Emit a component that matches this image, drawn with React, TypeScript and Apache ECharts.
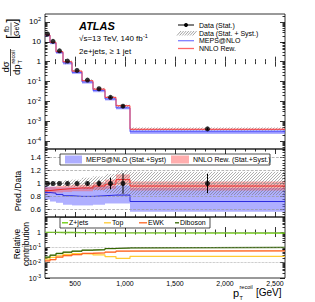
import React, { useEffect, useRef } from 'react';
import * as echarts from 'echarts';

// ---------- data ----------
const binEdges = [200, 250, 310, 380, 470, 570, 680, 800, 910, 1050, 2600];
const dataXsec = [24.6, 10.5, 3.5, 1.07, 0.36, 0.118, 0.043, 0.016, 0.0057, 0.00041];
const dataStatRel = [0.005, 0.006, 0.008, 0.01, 0.014, 0.025, 0.05, 0.09, 0.16, 0.15];
const dataTotRel = [0.03, 0.035, 0.04, 0.05, 0.06, 0.09, 0.11, 0.15, 0.19, 0.18];
const mepsRatio = [0.86, 0.85, 0.83, 0.81, 0.8, 0.8, 0.81, 0.82, 0.82, 0.72];
const mepsLow = [0.75, 0.72, 0.7, 0.67, 0.66, 0.66, 0.67, 0.69, 0.69, 0.56];
const mepsHigh = [0.95, 0.95, 0.94, 0.94, 0.94, 0.94, 0.95, 0.96, 0.97, 0.93];
const nnloRatio = [0.89, 0.9, 0.91, 0.92, 0.93, 0.93, 0.96, 0.99, 1.06, 0.96];
const nnloErr = [0.05, 0.05, 0.05, 0.05, 0.05, 0.05, 0.06, 0.07, 0.08, 0.07];
const fracZjets = [0.95, 0.95, 0.94, 0.93, 0.92, 0.91, 0.9, 0.89, 0.88, 0.87];
const fracTop = [0.017, 0.022, 0.028, 0.035, 0.039, 0.037, 0.032, 0.025, 0.019, 0.026];
const fracEWK = [0.013, 0.016, 0.023, 0.029, 0.034, 0.04, 0.044, 0.049, 0.057, 0.059];
const fracDiboson = [0.023, 0.031, 0.04, 0.049, 0.057, 0.066, 0.072, 0.084, 0.092, 0.1];
const xTickValues = [500, 1000, 1500, 2000, 2500];
const topExpTicks = [-4, -3, -2, -1, 0, 1, 2];
const ratioTicks = [0.6, 0.8, 1.0, 1.2, 1.4];
const fracExpTicks = [-3, -2, -1, 0];

// ---------- helpers ----------
const FONT = 'Liberation Sans, Arial, Helvetica, sans-serif';
const L = (v: number) => Math.log10(v);
const centers = dataXsec.map((_, i) => (binEdges[i] + binEdges[i + 1]) / 2);

function stepPts(vals: number[]) {
  const pts: number[][] = [];
  vals.forEach((v, i) => {
    pts.push([binEdges[i], v]);
    pts.push([binEdges[i + 1], v]);
  });
  return pts;
}

function logMinor(min: number, max: number) {
  const out: number[] = [];
  for (let n = -6; n <= 3; n++) {
    for (let k = 2; k <= 9; k++) {
      const v = n + Math.log10(k);
      if (v > min && v < max) out.push(v);
    }
  }
  return out;
}

const TOP = { min: -4.4, max: 2.4 };
const RAT = { min: 0.48, max: 1.535 };
const FRA = { min: -3, max: 0.98 };

const xMinor: number[] = [];
for (let v = 300; v <= 2500; v += 100) if (v % 500 !== 0) xMinor.push(v);
const ratMinor: number[] = [];
for (let v = 0.52; v < 1.53; v += 0.04) {
  const r = Math.round(v * 100) / 100;
  if (!ratioTicks.some((t) => Math.abs(t - r) < 1e-6)) ratMinor.push(r);
}

const tickStyle = { color: '#000', width: 0.8 };

function xAxesFor(g: number) {
  const base: any = {
    type: 'value', gridIndex: g, min: 200, max: 2600,
    axisLine: { show: false }, splitLine: { show: false }, axisLabel: { show: false },
  };
  return [
    {
      ...base, position: 'bottom',
      axisTick: { show: true, inside: true, length: 5, customValues: xTickValues, lineStyle: tickStyle },
      axisLabel: g === 2
        ? { show: true, customValues: xTickValues, fontSize: 7, margin: 1.5, color: '#000', fontFamily: FONT }
        : { show: false },
    },
    { ...base, position: 'bottom', axisTick: { show: true, inside: true, length: 2.5, customValues: xMinor, lineStyle: tickStyle } },
    { ...base, position: 'top', axisTick: { show: true, inside: true, length: 5, customValues: xTickValues, lineStyle: tickStyle } },
    { ...base, position: 'top', axisTick: { show: true, inside: true, length: 2.5, customValues: xMinor, lineStyle: tickStyle } },
  ];
}

function yAxesFor(g: number, rng: { min: number; max: number }, major: number[], minor: number[], label: any) {
  const base: any = {
    type: 'value', gridIndex: g, min: rng.min, max: rng.max,
    axisLine: { show: false }, splitLine: { show: false }, axisLabel: { show: false },
  };
  return [
    {
      ...base, position: 'left',
      axisTick: { show: true, inside: true, length: 5, customValues: major, lineStyle: tickStyle },
      axisLabel: { show: true, customValues: major, margin: 4, color: '#000', fontFamily: FONT, ...label },
    },
    { ...base, position: 'left', axisTick: { show: true, inside: true, length: 2.5, customValues: minor, lineStyle: tickStyle } },
    { ...base, position: 'right', axisTick: { show: true, inside: true, length: 5, customValues: major, lineStyle: tickStyle } },
    { ...base, position: 'right', axisTick: { show: true, inside: true, length: 2.5, customValues: minor, lineStyle: tickStyle } },
  ];
}

const expFormatter = (v: number) => {
  const n = Math.round(v);
  if (n === 0) return '1';
  if (n === 1) return '10';
  return `{b|10}{s|${n}}`;
};

function bandSeries(g: number, lows: number[], highs: number[], fill: string, z: number) {
  return {
    type: 'custom', xAxisIndex: 4 * g, yAxisIndex: 4 * g, z, clip: true, silent: true,
    data: lows.map((lo, i) => [binEdges[i], binEdges[i + 1], lo, highs[i]]),
    renderItem: (params: any, api: any) => {
      const a = api.coord([api.value(0), api.value(3)]);
      const b = api.coord([api.value(1), api.value(2)]);
      return { type: 'rect', shape: { x: a[0], y: a[1], width: b[0] - a[0], height: b[1] - a[1] }, style: { fill } };
    },
  };
}

function hatchSeries(g: number, lows: number[], highs: number[], z: number) {
  return {
    type: 'custom', xAxisIndex: 4 * g, yAxisIndex: 4 * g, z, clip: true, silent: true,
    data: lows.map((lo, i) => [binEdges[i], binEdges[i + 1], lo, highs[i]]),
    renderItem: (params: any, api: any) => {
      const cs = params.coordSys;
      const a = api.coord([api.value(0), api.value(3)]);
      const b = api.coord([api.value(1), api.value(2)]);
      const x0 = a[0], x1 = b[0];
      const y0 = Math.max(a[1], cs.y), y1 = Math.min(b[1], cs.y + cs.height);
      const s = 3;
      const children: any[] = [];
      for (let c = Math.ceil((x0 + y0) / s) * s; c <= x1 + y1; c += s) {
        const xa = Math.max(x0, c - y1), xb = Math.min(x1, c - y0);
        if (xb > xa) children.push({ type: 'line', shape: { x1: xa, y1: c - xa, x2: xb, y2: c - xb }, style: { stroke: '#777', lineWidth: 0.6 } });
      }
      return { type: 'group', children };
    },
  };
}

function errSeries(g: number, lows: number[], highs: number[], z: number) {
  return {
    type: 'custom', xAxisIndex: 4 * g, yAxisIndex: 4 * g, z, clip: true, silent: true,
    data: lows.map((lo, i) => [centers[i], lo, highs[i]]),
    renderItem: (params: any, api: any) => {
      const a = api.coord([api.value(0), api.value(1)]);
      const b = api.coord([api.value(0), api.value(2)]);
      return { type: 'line', shape: { x1: a[0], y1: a[1], x2: b[0], y2: b[1] }, style: { stroke: '#000', lineWidth: 1 } };
    },
  };
}

function stepSeries(g: number, vals: number[], color: string, width: number, z: number) {
  return {
    type: 'line', xAxisIndex: 4 * g, yAxisIndex: 4 * g, z, silent: true,
    data: stepPts(vals), showSymbol: false, symbol: 'none',
    lineStyle: { color, width }, itemStyle: { color },
  };
}

function hLines(g: number, vals: number[], type: string) {
  return {
    type: 'line', xAxisIndex: 4 * g, yAxisIndex: 4 * g, z: 0, silent: true, data: [],
    markLine: {
      silent: true, symbol: 'none', label: { show: false }, animation: false,
      lineStyle: { type, color: '#999', width: 0.7 },
      data: vals.map((v) => ({ yAxis: v })),
    },
  };
}

const BLUE_BAND = 'rgba(110,110,255,0.55)';
const RED_BAND = 'rgba(255,100,100,0.5)';

function buildOption(): any {
  const grids = [
    { left: 45, width: 240, top: 14, height: 135 },
    { left: 45, width: 240, top: 149, height: 68 },
    { left: 45, width: 240, top: 217, height: 61 },
  ].map((g) => ({ ...g, show: true, borderColor: '#000', borderWidth: 0.8, backgroundColor: 'transparent', containLabel: false }));

  const xAxis = [...xAxesFor(0), ...xAxesFor(1), ...xAxesFor(2)];
  const yAxis = [
    ...yAxesFor(0, TOP, topExpTicks, logMinor(TOP.min, TOP.max), {
      fontSize: 8, formatter: expFormatter,
      rich: { b: { fontSize: 8, fontFamily: FONT }, s: { fontSize: 5.5, fontFamily: FONT, padding: [0, 0, 5, 0] } },
    }),
    ...yAxesFor(1, RAT, ratioTicks, ratMinor, {
      fontSize: 7.5, formatter: (v: number) => (Math.abs(v - 1) < 1e-6 ? '1' : v.toFixed(1)),
    }),
    ...yAxesFor(2, FRA, fracExpTicks, logMinor(FRA.min, FRA.max), {
      fontSize: 7, formatter: expFormatter,
      rich: { b: { fontSize: 7, fontFamily: FONT }, s: { fontSize: 5, fontFamily: FONT, padding: [0, 0, 4, 0] } },
    }),
  ];

  const logData = dataXsec.map(L);
  const series: any[] = [
    // top panel
    bandSeries(0, dataXsec.map((d, i) => L(d * mepsLow[i])), dataXsec.map((d, i) => L(d * mepsHigh[i])), BLUE_BAND, 1),
    bandSeries(0, dataXsec.map((d, i) => L(d * (nnloRatio[i] - nnloErr[i]))), dataXsec.map((d, i) => L(d * (nnloRatio[i] + nnloErr[i]))), RED_BAND, 1),
    hatchSeries(0, dataXsec.map((d, i) => L(d * (1 - dataTotRel[i]))), dataXsec.map((d, i) => L(d * (1 + dataTotRel[i]))), 2),
    stepSeries(0, dataXsec.map((d, i) => L(d * mepsRatio[i])), '#4a4aff', 0.9, 3),
    stepSeries(0, dataXsec.map((d, i) => L(d * nnloRatio[i])), '#ff3a3a', 0.9, 3),
    errSeries(0, dataXsec.map((d, i) => L(d * (1 - dataStatRel[i]))), dataXsec.map((d, i) => L(d * (1 + dataStatRel[i]))), 4),
    {
      type: 'scatter', xAxisIndex: 0, yAxisIndex: 0, z: 5, silent: true, symbol: 'circle', symbolSize: 5,
      itemStyle: { color: '#000' }, data: centers.map((c, i) => [c, logData[i]]),
    },
    // ratio panel
    hLines(1, ratioTicks, 'dashed'),
    bandSeries(1, mepsLow, mepsHigh, BLUE_BAND, 1),
    bandSeries(1, nnloRatio.map((r, i) => r - nnloErr[i]), nnloRatio.map((r, i) => r + nnloErr[i]), RED_BAND, 1),
    hatchSeries(1, dataTotRel.map((e) => 1 - e), dataTotRel.map((e) => 1 + e), 2),
    stepSeries(1, mepsRatio, '#2a2ae0', 1, 3),
    stepSeries(1, nnloRatio, '#ee2a2a', 1, 3),
    errSeries(1, dataStatRel.map((e) => 1 - e), dataStatRel.map((e) => 1 + e), 4),
    {
      type: 'scatter', xAxisIndex: 4, yAxisIndex: 4, z: 5, silent: true, symbol: 'circle', symbolSize: 5,
      itemStyle: { color: '#000' }, data: centers.map((c) => [c, 1]),
    },
    // fraction panel
    hLines(2, [0, -1, -2], 'dotted'),
    bandSeries(2, fracDiboson.map((v) => L(v * 0.88)), fracDiboson.map((v) => L(v * 1.04)), 'rgba(120,150,80,0.75)', 1),
    bandSeries(2, fracEWK.map((v) => L(v * 0.9)), fracEWK.map((v) => L(v * 1.1)), 'rgba(255,140,90,0.45)', 1),
    stepSeries(2, fracZjets.map(L), '#66cc00', 1.4, 3),
    stepSeries(2, fracTop.map(L), '#ffcc33', 1.2, 3),
    stepSeries(2, fracEWK.map(L), '#ff6622', 1.2, 3),
    stepSeries(2, fracDiboson.map(L), '#336600', 1.2, 3),
  ];

  const txt = (x: number, y: number, text: string, fontSize: number, extra: any = {}) => ({
    type: 'text', x, y, z: 100,
    style: {
      text, fontSize, fontFamily: FONT, fill: extra.fill || '#000',
      textAlign: extra.align || 'left', align: extra.align || 'left',
      textVerticalAlign: 'middle', verticalAlign: 'middle',
      fontWeight: extra.fontWeight, fontStyle: extra.fontStyle, rich: extra.rich,
    },
  });
  const ln = (x1: number, y1: number, x2: number, y2: number, stroke: string, w = 1) => ({
    type: 'line', z: 100, shape: { x1, y1, x2, y2 }, style: { stroke, lineWidth: w },
  });

  const hatchIcon: any[] = [];
  for (let k = 0; k < 7; k++) {
    const xs = 177 + k * 2.6;
    hatchIcon.push(ln(xs, 35.5, xs + 4, 31, '#666', 0.6));
  }

  const graphic: any[] = [
    // y title top panel (rotated)
    {
      type: 'group', x: 13, y: 60, rotation: Math.PI / 2, z: 100,
      children: [
        txt(-7, -7.5, 'dσ', 9.5, { align: 'center' }),
        ln(-16, -2.5, 11, -2.5, '#000', 0.7),
        txt(-15, 3.5, 'dp', 9.5),
        txt(-3.5, 0, 'recoil', 5.5),
        txt(-3.5, 7, 'T', 5.5),
        txt(21, -1.5, '[', 15),
        txt(31, -6.5, 'fb', 7, { align: 'center' }),
        ln(24.5, -2, 37.5, -2, '#000', 0.6),
        txt(31, 3, 'GeV', 7, { align: 'center' }),
        txt(37.5, -1.5, ']', 15),
      ],
    },
    { type: 'group', x: 18, y: 191, rotation: Math.PI / 2, z: 100, children: [txt(0, 0, 'Pred./Data', 8.5, { align: 'center' })] },
    {
      type: 'group', x: 21, y: 244, rotation: Math.PI / 2, z: 100,
      children: [txt(0, -4.5, 'Relative', 8.5, { align: 'center' }), txt(0, 4.5, 'contribution', 8.5, { align: 'center' })],
    },
    // x title
    txt(233, 293, 'p', 11),
    txt(239.5, 287, 'recoil', 5.5),
    txt(239.5, 297.5, 'T', 5.5),
    txt(256, 292, '[GeV]', 10),
    // ATLAS labels
    txt(79, 26, 'ATLAS', 11, { fontWeight: 'bold', fontStyle: 'italic' }),
    txt(79, 38.5, '{a|√s=13 TeV, 140 fb}{s|-1}', 8, {
      rich: { a: { fontSize: 8, fontFamily: FONT }, s: { fontSize: 5.5, fontFamily: FONT, padding: [0, 0, 5, 0] } },
    }),
    txt(79, 51, '2e+jets, ≥ 1 jet', 8),
    // top legend
    ln(178, 25, 194, 25, '#000', 1),
    { type: 'circle', z: 100, shape: { cx: 186, cy: 25, r: 2 }, style: { fill: '#000' } },
    txt(199, 25, 'Data (Stat.)', 7),
    ...hatchIcon,
    txt(199, 33, 'Data (Stat. + Syst.)', 7),
    ln(178, 40.7, 194, 40.7, '#8080ff', 1.3),
    txt(199, 40.7, 'MEPS@NLO', 7),
    ln(178, 48.5, 194, 48.5, '#ff6666', 1.3),
    txt(199, 48.5, 'NNLO Rew.', 7),
    // ratio legend
    { type: 'rect', z: 100, shape: { x: 60, y: 154, width: 210, height: 11 }, style: { fill: '#fff', stroke: '#000', lineWidth: 0.7 } },
    { type: 'rect', z: 101, shape: { x: 65, y: 155.5, width: 17, height: 8 }, style: { fill: 'rgba(120,120,255,0.6)' } },
    txt(86, 159.7, 'MEPS@NLO (Stat.+Syst)', 7),
    { type: 'rect', z: 101, shape: { x: 171, y: 155.5, width: 18, height: 8 }, style: { fill: 'rgba(255,120,120,0.6)' } },
    txt(193, 159.7, 'NNLO Rew. (Stat.+Syst.)', 7),
    // fraction legend
    { type: 'rect', z: 100, shape: { x: 60, y: 217.5, width: 150, height: 10.5 }, style: { fill: '#fff', stroke: '#000', lineWidth: 0.7 } },
    ln(62, 222.8, 68, 222.8, '#66cc00', 1.3),
    txt(69, 222.8, 'Z+jets', 7),
    ln(104, 222.8, 111, 222.8, '#ffcc33', 1.3),
    txt(112, 222.8, 'Top', 7),
    ln(139, 222.8, 147, 222.8, '#ff6622', 1.3),
    txt(148, 222.8, 'EWK', 7),
    ln(175, 222.8, 179, 222.8, '#336600', 1.3),
    txt(180, 222.8, 'Diboson', 7),
  ];

  return {
    animation: false,
    backgroundColor: '#fff',
    textStyle: { fontFamily: FONT },
    grid: grids,
    xAxis,
    yAxis,
    series,
    graphic,
  };
}

export default function App() {
  const ref = useRef<HTMLDivElement>(null);
  useEffect(() => {
    if (!ref.current) return;
    const chart = echarts.init(ref.current, undefined, { renderer: 'svg' });
    chart.setOption(buildOption());
    return () => chart.dispose();
  }, []);
  return <div ref={ref} style={{ position: 'absolute', left: 0, top: 0, width: 315, height: 302 }} />;
}
